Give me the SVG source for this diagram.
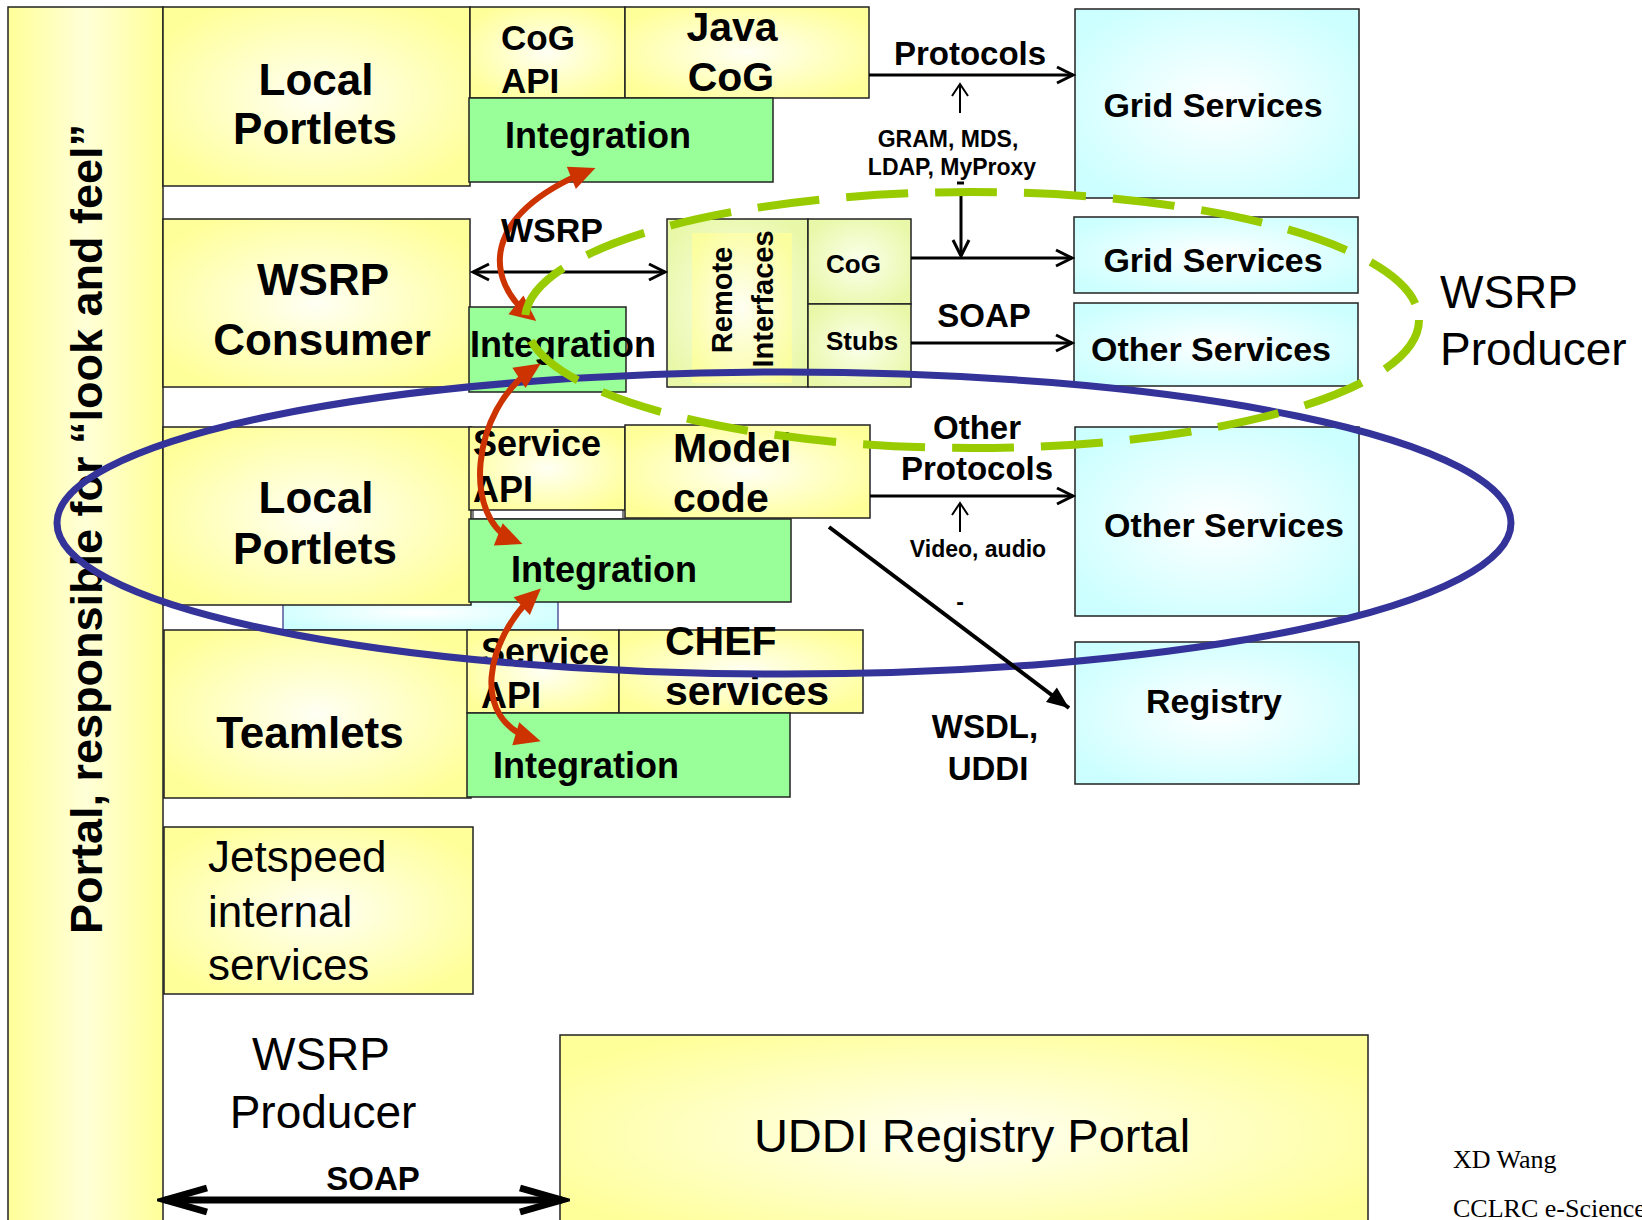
<svg xmlns="http://www.w3.org/2000/svg" width="1642" height="1220" viewBox="0 0 1642 1220">
<defs>
<style>
.box{stroke:#222;stroke-width:1.5}
.y{fill:url(#gy)}
.c{fill:url(#gc)}
.g{fill:#99FF99}
.gg{fill:url(#gg)}
.t{font-family:"Liberation Sans",Arial,Helvetica,sans-serif;fill:#000}
.b{font-weight:bold}
.m{text-anchor:middle}
.ln{stroke:#000;stroke-width:3;fill:none;marker-end:url(#chev)}
.thin{stroke:#000;stroke-width:2;fill:none;marker-end:url(#chevS)}
.red{stroke:#CC3300;stroke-width:6;fill:none;marker-start:url(#rh);marker-end:url(#rh)}
</style>
<radialGradient id="gy" cx="0.5" cy="0.5" r="0.6"><stop offset="0" stop-color="#FFFFF4"/><stop offset="1" stop-color="#FFFF99"/></radialGradient>
<radialGradient id="gc" cx="0.5" cy="0.5" r="0.6"><stop offset="0" stop-color="#FFFFFF"/><stop offset="1" stop-color="#CCFFFF"/></radialGradient>
<radialGradient id="gg" cx="0.5" cy="0.5" r="0.6"><stop offset="0" stop-color="#FBFFEC"/><stop offset="1" stop-color="#E8F8A8"/></radialGradient>
<linearGradient id="gcol" x1="0" y1="0" x2="1" y2="0"><stop offset="0" stop-color="#FFFF99"/><stop offset="0.5" stop-color="#FFFFD8"/><stop offset="1" stop-color="#FFFF99"/></linearGradient>
<marker id="chev" viewBox="-20 -12 24 24" refX="0" refY="0" markerWidth="24" markerHeight="24" markerUnits="userSpaceOnUse" orient="auto-start-reverse"><path d="M-16,-8 L0,0 L-16,8" fill="none" stroke="#000" stroke-width="3"/></marker>
<marker id="chevS" viewBox="-16 -10 20 20" refX="0" refY="0" markerWidth="20" markerHeight="20" markerUnits="userSpaceOnUse" orient="auto-start-reverse"><path d="M-12,-8 L0,0 L-12,8" fill="none" stroke="#000" stroke-width="2"/></marker>
<marker id="chevB" viewBox="-48 -18 56 36" refX="0" refY="0" markerWidth="56" markerHeight="36" markerUnits="userSpaceOnUse" orient="auto-start-reverse"><path d="M-42,-12 L0,0 L-42,12" fill="none" stroke="#000" stroke-width="7"/></marker>
<marker id="tri" viewBox="-26 -12 28 24" refX="0" refY="0" markerWidth="28" markerHeight="24" markerUnits="userSpaceOnUse" orient="auto"><path d="M-22,-9 L0,0 L-22,9 Z" fill="#000"/></marker>
<marker id="rh" viewBox="-30 -14 32 28" refX="-8" refY="0" markerWidth="32" markerHeight="28" markerUnits="userSpaceOnUse" orient="auto-start-reverse"><path d="M-26,-12 L0,0 L-26,12 Z" fill="#CC3300"/></marker>
</defs>
<rect width="1642" height="1220" fill="#FFFFFF"/>

<g id="portal">
<rect x="8" y="7" width="155" height="1225" fill="url(#gcol)" class="box"/>
<text class="t b m" font-size="45" transform="translate(102,529) rotate(-90)">Portal, responsible for “look and feel”</text>
</g>

<g id="cyan-strip"><rect x="283" y="595" width="275" height="35" class="c" stroke="#555599" stroke-width="1.5"/></g>

<g id="local-portlets-1">
<rect x="163" y="7" width="307" height="179" class="box y"/>
<text class="t b m" font-size="44" x="316" y="95">Local</text>
<text class="t b m" font-size="44" x="315" y="144">Portlets</text>
</g>
<g id="cog-api">
<rect x="470" y="7" width="155" height="91" class="box y"/>
<text class="t b" font-size="35" x="501" y="50">CoG</text>
<text class="t b" font-size="35" x="501" y="93">API</text>
</g>
<g id="java-cog">
<rect x="625" y="7" width="244" height="91" class="box y"/>
<text class="t b m" font-size="41" x="732" y="41">Java</text>
<text class="t b m" font-size="41" x="731" y="91">CoG</text>
</g>
<g id="integration-1">
<rect x="469" y="98" width="304" height="84" class="box g"/>
<text class="t b" font-size="36" x="505" y="148">Integration</text>
</g>

<g id="wsrp-consumer">
<rect x="163" y="219" width="307" height="168" class="box y"/>
<text class="t b m" font-size="44" x="323" y="295">WSRP</text>
<text class="t b m" font-size="44" x="322" y="355">Consumer</text>
</g>
<g id="integration-2">
<rect x="469" y="307" width="157" height="85" class="box g"/>
<text class="t b" font-size="36" x="470" y="357">Integration</text>
</g>
<g id="remote-interfaces">
<rect x="667" y="219" width="141" height="168" class="box gg"/>
<rect x="692" y="233" width="100" height="150" fill="url(#gy)" opacity="0.8"/>
<text class="t b m" font-size="29" transform="translate(732,300) rotate(-90)">Remote</text>
<text class="t b m" font-size="29" transform="translate(773,299) rotate(-90)">Interfaces</text>
</g>
<g id="cog-stub">
<rect x="808" y="219" width="103" height="85" class="box gg"/>
<text class="t b" font-size="26" x="826" y="273">CoG</text>
</g>
<g id="stubs">
<rect x="808" y="304" width="103" height="83" class="box gg"/>
<text class="t b" font-size="26" x="826" y="350">Stubs</text>
</g>

<g id="grid-services-1">
<rect x="1075" y="9" width="284" height="189" class="box c"/>
<text class="t b m" font-size="34" x="1213" y="117">Grid Services</text>
</g>
<g id="grid-services-2">
<rect x="1074" y="217" width="284" height="76" class="box c"/>
<text class="t b m" font-size="34" x="1213" y="272">Grid Services</text>
</g>
<g id="other-services-1">
<rect x="1074" y="303" width="284" height="83" class="box c"/>
<text class="t b m" font-size="34" x="1211" y="361">Other Services</text>
</g>
<g id="wsrp-producer-label">
<text class="t" font-size="46" x="1440" y="308">WSRP</text>
<text class="t" font-size="46" x="1440" y="365">Producer</text>
</g>

<g id="local-portlets-2">
<rect x="163" y="427" width="308" height="178" class="box y"/>
<text class="t b m" font-size="44" x="316" y="513">Local</text>
<text class="t b m" font-size="44" x="315" y="564">Portlets</text>
</g>
<g id="service-api-1">
<rect x="473" y="505" width="150" height="14" fill="#FFFFFF" stroke="#555" stroke-width="1.5"/>
<rect x="469" y="427" width="156" height="83" class="box y"/>
<text class="t b" font-size="36" x="473" y="456">Service</text>
<text class="t b" font-size="36" x="473" y="502">API</text>
</g>
<g id="model-code">
<rect x="625" y="425" width="245" height="93" class="box y"/>
<text class="t b" font-size="41" x="673" y="462">Model</text>
<text class="t b" font-size="41" x="673" y="512">code</text>
</g>
<g id="integration-3">
<rect x="469" y="519" width="322" height="83" class="box g"/>
<text class="t b" font-size="36" x="511" y="582">Integration</text>
</g>
<g id="other-services-2">
<rect x="1075" y="427" width="284" height="189" class="box c"/>
<text class="t b m" font-size="34" x="1224" y="537">Other Services</text>
</g>

<g id="teamlets">
<rect x="164" y="630" width="307" height="168" class="box y"/>
<text class="t b m" font-size="44" x="310" y="748">Teamlets</text>
</g>
<g id="service-api-2">
<rect x="467" y="630" width="152" height="83" class="box y"/>
<text class="t b" font-size="36" x="481" y="664">Service</text>
<text class="t b" font-size="36" x="481" y="708">API</text>
</g>
<g id="chef-services">
<rect x="619" y="630" width="244" height="83" class="box y"/>
<text class="t b" font-size="41" x="665" y="655">CHEF</text>
<text class="t b" font-size="41" x="665" y="705">services</text>
</g>
<g id="integration-4">
<rect x="467" y="713" width="323" height="84" class="box g"/>
<text class="t b" font-size="36" x="493" y="778">Integration</text>
</g>
<g id="registry">
<rect x="1075" y="642" width="284" height="142" class="box c"/>
<text class="t b m" font-size="34" x="1214" y="713">Registry</text>
</g>

<g id="jetspeed">
<rect x="164" y="827" width="309" height="167" class="box y"/>
<text class="t" font-size="44" x="208" y="872">Jetspeed</text>
<text class="t" font-size="44" x="208" y="927">internal</text>
<text class="t" font-size="44" x="208" y="980">services</text>
</g>
<g id="wsrp-producer-bottom">
<text class="t m" font-size="46" x="321" y="1070">WSRP</text>
<text class="t m" font-size="46" x="323" y="1128">Producer</text>
</g>
<g id="uddi-portal">
<rect x="560" y="1035" width="808" height="200" class="box y"/>
<text class="t m" font-size="47" x="972" y="1152">UDDI Registry Portal</text>
</g>
<g id="credits">
<text font-family="'Liberation Serif','Times New Roman',serif" font-size="26" x="1453" y="1168">XD Wang</text>
<text font-family="'Liberation Serif','Times New Roman',serif" font-size="26" x="1453" y="1217">CCLRC e-Science</text>
</g>

<g id="blue-ellipse"><ellipse cx="784" cy="523" rx="727" ry="151" fill="none" stroke="#333399" stroke-width="7"/></g>

<g id="connectors">
<line x1="869" y1="75" x2="1073" y2="75" class="ln"/>
<line x1="960" y1="113" x2="960" y2="84" class="thin"/>
<line x1="957" y1="183" x2="964" y2="183" stroke="#000" stroke-width="3"/>
<line x1="961" y1="195" x2="961" y2="256" class="ln"/>
<line x1="911" y1="258" x2="1072" y2="258" class="ln"/>
<line x1="911" y1="343" x2="1072" y2="343" class="ln"/>
<line x1="473" y1="272" x2="665" y2="272" class="ln" marker-start="url(#chev)"/>
<line x1="870" y1="496" x2="1073" y2="496" class="ln"/>
<line x1="960" y1="532" x2="960" y2="503" class="thin"/>
<line x1="829" y1="527" x2="1069" y2="708" stroke="#000" stroke-width="4" marker-end="url(#tri)"/>
<line x1="165" y1="1200" x2="562" y2="1200" stroke="#000" stroke-width="7" marker-start="url(#chevB)" marker-end="url(#chevB)"/>
<path d="M530,316 C485,280 480,215 588,171" class="red"/>
<path d="M534,368 C470,410 462,520 515,541" class="red"/>
<path d="M535,594 C485,640 470,720 533,739" class="red"/>
<text class="t b m" font-size="33" x="970" y="65">Protocols</text>
<text class="t b m" font-size="23" x="948" y="147">GRAM, MDS,</text>
<text class="t b m" font-size="23" x="952" y="175">LDAP, MyProxy</text>
<text class="t b m" font-size="34" x="552" y="242">WSRP</text>
<text class="t b m" font-size="33" x="984" y="327">SOAP</text>
<text class="t b m" font-size="33" x="977" y="439">Other</text>
<text class="t b m" font-size="33" x="977" y="480">Protocols</text>
<text class="t b m" font-size="23" x="978" y="557">Video, audio</text>
<text class="t b m" font-size="23" x="960" y="610">-</text>
<text class="t b m" font-size="33" x="985" y="738">WSDL,</text>
<text class="t b m" font-size="33" x="988" y="780">UDDI</text>
<text class="t b m" font-size="33" x="373" y="1190">SOAP</text>
</g>

<g id="green-ellipse"><ellipse cx="972" cy="320" rx="447" ry="128" fill="none" stroke="#99CC00" stroke-width="8" stroke-dasharray="62 27"/></g>
</svg>
